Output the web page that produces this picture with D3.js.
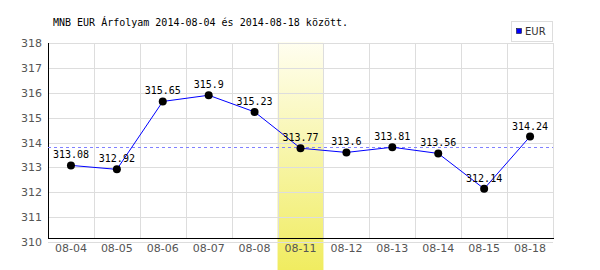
<!DOCTYPE html>
<html lang="hu">
<head>
  <meta charset="UTF-8">
  <title>MNB EUR árfolyam</title>
  <script src="https://d3js.org/d3.v7.min.js"></script>
  <style>
    body { margin: 0; background: #fff; }
  </style>
</head>
<body>
  <div id="chart"></div>

  <script>
    // Data
    const dates = ["08-04", "08-05", "08-06", "08-07", "08-08", "08-11", "08-12", "08-13", "08-14", "08-15", "08-18"];
    const rates = [313.08, 312.92, 315.65, 315.9, 315.23, 313.77, 313.6, 313.81, 313.56, 312.14, 314.24];
    const yTicks = [310, 311, 312, 313, 314, 315, 316, 317, 318];
    const average = 313.82;
    const highlighted = "08-11";
    const title = "MNB EUR Árfolyam 2014-08-04 és 2014-08-18 között.";
    const seriesName = "EUR";

    const width = 600, height = 270;
    const margin = {top: 43, right: 47, bottom: 28, left: 48};

    const svg = d3.select("#chart").append("svg")
      .attr("width", width)
      .attr("height", height);

    const x = d3.scaleBand()
      .domain(dates)
      .range([margin.left, width - margin.right]);

    const y = d3.scaleLinear()
      .domain([310, 318])
      .range([242, margin.top]);

    // gradient for highlighted day
    const grad = svg.append("defs").append("linearGradient")
      .attr("id", "hl").attr("x1", 0).attr("y1", 0).attr("x2", 0).attr("y2", 1);
    grad.append("stop").attr("offset", "0%").attr("stop-color", "#fffef0");
    grad.append("stop").attr("offset", "100%").attr("stop-color", "#f0ec60");

    svg.append("rect")
      .attr("x", x(highlighted))
      .attr("y", y(318) - 1)
      .attr("width", x.bandwidth())
      .attr("height", height - y(318) + 1)
      .attr("fill", "url(#hl)");

    // grid
    const grid = svg.append("g").attr("stroke", "#dddddd").attr("stroke-width", 1);
    grid.selectAll(".h").data(yTicks).enter().append("line")
      .attr("x1", margin.left).attr("x2", width - margin.right)
      .attr("y1", d => Math.round(y(d)) + 0.5).attr("y2", d => Math.round(y(d)) + 0.5);
    grid.selectAll(".v").data(dates).enter().append("line")
      .attr("x1", d => Math.round(x(d) + x.bandwidth()) + 0.5)
      .attr("x2", d => Math.round(x(d) + x.bandwidth()) + 0.5)
      .attr("y1", y(318)).attr("y2", 238);

    // axes lines
    svg.append("line")
      .attr("x1", margin.left + 0.5).attr("x2", margin.left + 0.5)
      .attr("y1", y(318)).attr("y2", 238.5)
      .attr("stroke", "#000");
    svg.append("line")
      .attr("x1", margin.left).attr("x2", width - margin.right + 1)
      .attr("y1", 238.5).attr("y2", 238.5)
      .attr("stroke", "#000");

    // y tick labels
    svg.append("g").selectAll("text").data(yTicks).enter().append("text")
      .attr("x", 42)
      .attr("y", d => y(d) + 4)
      .attr("text-anchor", "end")
      .style("font", "11px 'DejaVu Sans'")
      .style("fill", "#555")
      .text(d => d);

    // x tick labels
    svg.append("g").selectAll("text").data(dates).enter().append("text")
      .attr("x", d => x(d) + x.bandwidth() / 2)
      .attr("y", 252)
      .attr("text-anchor", "middle")
      .style("font", "11px 'DejaVu Sans'")
      .style("fill", "#555")
      .text(d => d);

    // average line
    svg.append("line")
      .attr("x1", margin.left).attr("x2", width - margin.right)
      .attr("y1", Math.round(y(average)) + 0.5).attr("y2", Math.round(y(average)) + 0.5)
      .attr("stroke", "#8080ff")
      .attr("stroke-dasharray", "3,3");

    const pts = dates.map((d, i) => ({date: d, value: rates[i]}));
    const cx = d => x(d.date) + x.bandwidth() / 2;

    // series line
    svg.append("path")
      .datum(pts)
      .attr("fill", "none")
      .attr("stroke", "#0000ff")
      .attr("stroke-width", 1)
      .attr("d", d3.line().x(cx).y(d => y(d.value)));

    svg.append("g").selectAll("circle").data(pts).enter().append("circle")
      .attr("cx", cx)
      .attr("cy", d => y(d.value))
      .attr("r", 4)
      .attr("fill", "#000");

    svg.append("g").selectAll("text").data(pts).enter().append("text")
      .attr("x", cx)
      .attr("y", d => y(d.value) - 7)
      .attr("text-anchor", "middle")
      .style("font", "10px 'DejaVu Sans Mono'")
      .style("fill", "#000")
      .text(d => d.value);

    // title
    svg.append("text")
      .attr("x", 53)
      .attr("y", 26)
      .style("font", "10px 'DejaVu Sans Mono'")
      .style("fill", "#000")
      .text(title);

    // legend
    const lg = svg.append("g").attr("transform", "translate(511,21)");
    lg.append("rect")
      .attr("x", 0.5).attr("y", 0.5).attr("width", 41).attr("height", 20)
      .attr("fill", "#fff").attr("stroke", "#dddddd");
    lg.append("rect")
      .attr("x", 5.5).attr("y", 7.5).attr("width", 5).attr("height", 5)
      .attr("fill", "#0000ff").attr("stroke", "#000").attr("stroke-width", 0.5);
    lg.append("text")
      .attr("x", 14).attr("y", 14)
      .style("font", "10px 'DejaVu Sans'")
      .style("fill", "#333")
      .text(seriesName);
  </script>
</body>
</html>
